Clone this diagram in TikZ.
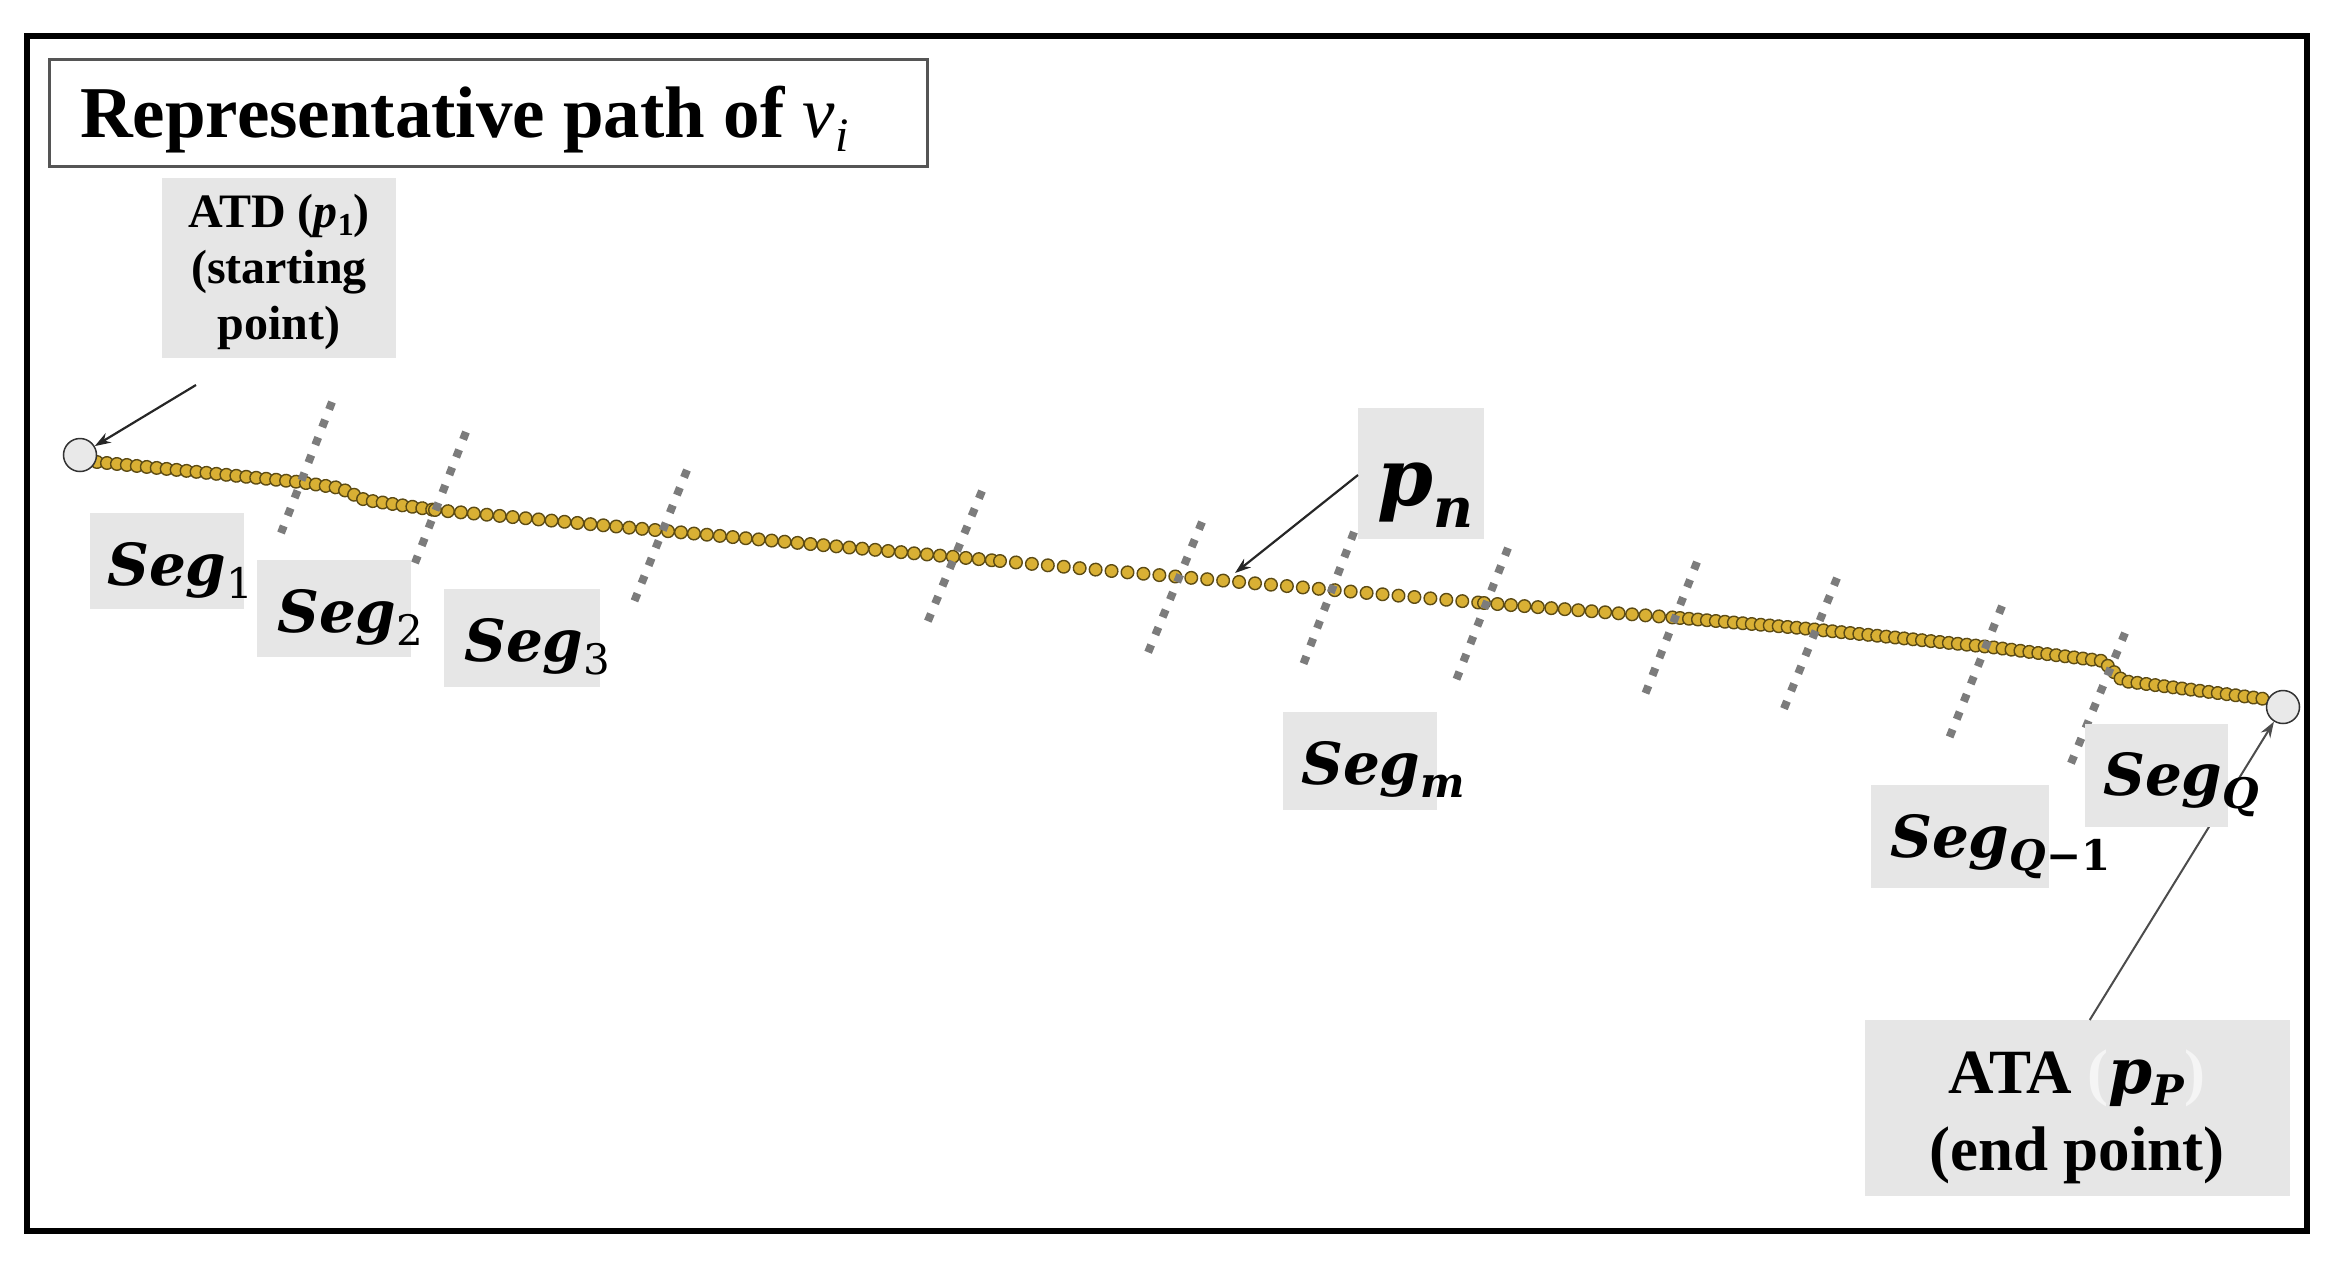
\documentclass[tikz,border=0pt]{standalone}
\usepackage{fontspec}
\setmainfont{Liberation Serif}
\newfontfamily\mfont{DejaVu Serif}
\usetikzlibrary{decorations.markings,arrows.meta}
\definecolor{boxgray}{HTML}{E6E6E6}
\definecolor{sepgray}{HTML}{7C7C7C}
\definecolor{gold}{HTML}{D9B034}
\definecolor{golddark}{HTML}{5C4B14}
\definecolor{circfill}{HTML}{E9E9E9}
\definecolor{titleedge}{HTML}{555555}
\newcommand{\setfs}[1]{\fontsize{#1}{#1}\selectfont}
\newcommand{\segtxt}[1]{{\mfont\bfseries\itshape\setfs{58}Seg}\raisebox{-13pt}{\mfont\setfs{42}#1}}
\newcommand{\golddot}{\filldraw[fill=gold, draw=golddark, line width=1.4pt] (0,0) circle (6.3pt);}
\tikzset{
  graybox/.style={fill=boxgray, draw=none, inner sep=0, anchor=north west},
  lbl/.style={inner sep=0, anchor=base west},
  sepline/.style={sepgray, line width=8pt, dash pattern=on 8pt off 11pt},
  endcirc/.style={circle, fill=circfill, draw=black!80, line width=1.5pt, minimum size=33pt, inner sep=0},
  conn/.style={draw=black!85, line width=2.2pt, -{Stealth[length=16pt,width=11pt]}},
  dots/.style={postaction={decorate}, decoration={markings, mark=between positions 0 and 1 step #1 with {\golddot}}}
}
\begin{document}
\begin{tikzpicture}[x=1pt,y=-1pt]
\useasboundingbox (0,0) rectangle (2332,1277);
% outer frame
\draw[black, line width=6pt] (27,36) rectangle (2307,1231);
% title
\node[draw=titleedge, line width=2.5pt, fill=white, inner sep=0, anchor=north west, minimum width=878pt, minimum height=107pt] (title) at (48,58) {};
\node[lbl] (titletxt) at (80,137) {\setfs{73}\bfseries Representative path of \itshape\mdseries v\raisebox{-14pt}{\setfs{48}i}};
% path of dots
\path[dots=10pt] (97,462) -- (299,482) -- (340,488) -- (365,500) -- (435,510);
\path[dots=13pt] (435,510) -- (732,537) -- (1000,561);
\path[dots=16pt] (1000,561) -- (1100,570) -- (1484,603);
\path[dots=13.5pt] (1484,603) -- (1680,618);
\path[dots=9pt] (1680,618) -- (1800,628) -- (1990,647) -- (2103,661) -- (2123,681) -- (2265,699);
% separators
\draw[sepline] (332,402) -- (281,533);
\draw[sepline] (466,432) -- (415,563);
\draw[sepline] (687,470) -- (634,602);
\draw[sepline] (982,491) -- (925,628);
\draw[sepline] (1202,522) -- (1147,655);
\draw[sepline] (1354,532) -- (1303,665);
\draw[sepline] (1508,548) -- (1455,683);
\draw[sepline] (1697,562) -- (1644,697);
\draw[sepline] (1837,578) -- (1783,711);
\draw[sepline] (2002,606) -- (1948,741);
\draw[sepline] (2125,633) -- (2069,768);
% start and end points
\node[endcirc] (start) at (80,455) {};
\node[endcirc] (end) at (2283,707) {};
% ATD box
\node[graybox, minimum width=234pt, minimum height=180pt] (atd) at (162,178) {};
\node[inner sep=0, align=center, font=\setfs{48}\bfseries] (atdtxt) at (279,274) {\strut ATD (\itshape p\raisebox{-8pt}{\upshape\setfs{32}1}\upshape)\\[8pt] \strut(starting\\[8pt] \strut point)};
\coordinate (atdfrom) at (196,385);
\draw[conn] (atdfrom) -- (start);
% ATA box and line
\node[graybox, minimum width=425pt, minimum height=176pt] (ata) at (1865,1020) {};
\draw[conn, draw=black!70, line width=2pt] (ata.north) ++(12,0) coordinate (atafrom) -- (end);
\node[inner sep=0, anchor=base] (atatxt1) at (2077,1093) {\setfs{63}\bfseries ATA {\color{white!96!black}(}{\mfont\itshape p\raisebox{-12pt}{\setfs{42}P}}{\color{white!96!black})}};
\node[inner sep=0, anchor=base] (atatxt2) at (2077,1170) {\setfs{63}\bfseries (end point)};
% Seg boxes
\node[graybox, minimum width=154pt, minimum height=96pt] (b1) at (90,513) {};
\node[graybox, minimum width=154pt, minimum height=97pt] (b2) at (257,560) {};
\node[graybox, minimum width=156pt, minimum height=98pt] (b3) at (444,589) {};
\node[graybox, minimum width=154pt, minimum height=98pt] (bm) at (1283,712) {};
\node[graybox, minimum width=178pt, minimum height=103pt] (bq1) at (1871,785) {};
\node[graybox, minimum width=143pt, minimum height=103pt] (bq) at (2085,724) {};
\node[graybox, minimum width=126pt, minimum height=131pt] (bpn) at (1358,408) {};
\node[lbl] (s1) at (107,585) {\segtxt{1}};
\node[lbl] (s2) at (277,632) {\segtxt{2}};
\node[lbl] (s3) at (464,661) {\segtxt{3}};
\node[lbl] (sm) at (1301,784) {\segtxt{\bfseries\itshape m}};
\node[lbl] (sq1) at (1890,857) {\segtxt{\bfseries\itshape Q\upshape−1}};
\node[lbl] (sq) at (2103,795) {\segtxt{\bfseries\itshape Q}};
\node[lbl] (pn) at (1377,505) {{\mfont\bfseries\itshape\setfs{80}p}\raisebox{-22pt}{\mfont\bfseries\itshape\setfs{55}n}};
% p_n arrow
\coordinate (pntarget) at (1235,573);
\draw[conn] (bpn.west |- 0,475) -- (pntarget);
\end{tikzpicture}
\end{document}
